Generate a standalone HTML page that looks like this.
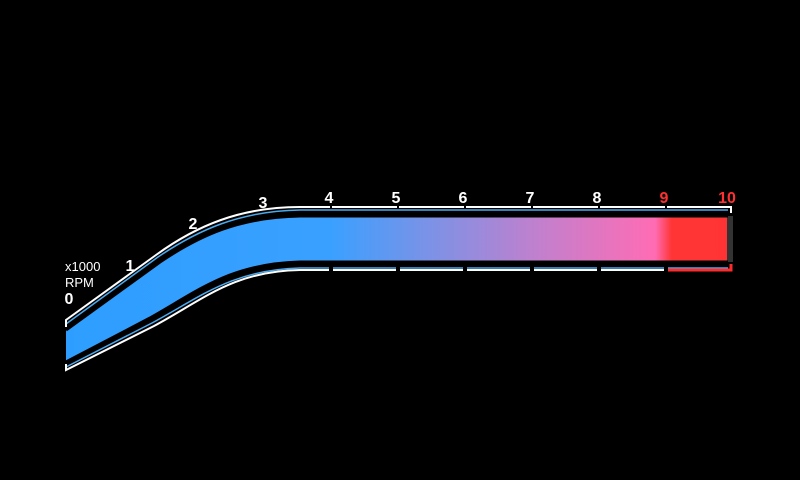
<!DOCTYPE html>
<html><head><meta charset="utf-8"><style>
html,body{margin:0;padding:0;background:#000;width:800px;height:480px;overflow:hidden}
svg{display:block}
text{font-family:"Liberation Sans",sans-serif;font-weight:bold}
</style></head><body>
<svg id="g" width="800" height="480" viewBox="0 0 800 480">
<defs>
<linearGradient id="grad" x1="66" y1="0" x2="728" y2="0" gradientUnits="userSpaceOnUse">
<stop offset="0" stop-color="#2d9eff"/>
<stop offset="0.40" stop-color="#3aa0ff"/>
<stop offset="0.55" stop-color="#7c92e6"/>
<stop offset="0.72" stop-color="#c47fcc"/>
<stop offset="0.89" stop-color="#ff6cb4"/>
<stop offset="0.915" stop-color="#ff3535"/>
<stop offset="1" stop-color="#ff3333"/>
</linearGradient>
<clipPath id="valclip"><rect id="valrect" x="0" y="0" width="800" height="480"/></clipPath>
</defs>
<g id="band"></g>
<g id="ticks"></g>
</svg>
<script>
const tickLabels = ["0","1","2","3","4","5","6","7","8","9","10"];
const tickValues = [0,1,2,3,4,5,6,7,8,9,10];
const redlineFrom = 9;
const rpmValue = 10;
const svg = document.getElementById('g');
const NS = 'http://www.w3.org/2000/svg';
function xScale(v){ return 331 + (v-4)*67; }
const curvePts = [[69,298],[130,265],[193,223],[263,202]];
function labelPos(v){ return v<4 ? curvePts[v] : [v===10 ? 727 : xScale(v)-2, 197]; }
function mk(tag, attrs, parent){ const e=document.createElementNS(NS,tag); for(const k in attrs) e.setAttribute(k,attrs[k]); (parent||svg).appendChild(e); return e; }
const band = document.getElementById('band');
const topEdge = "M66,330 L160,262 C200,235 240,217 300,216 L728,216";
const botEdge = "M66,362 L150,318 C200,290 230,264 300,262 L728,262";
const fillPath = "M66,330 L160,262 C200,235 240,217 300,216 L728,216 L728,262 L300,262 C230,264 200,290 150,318 L66,362 Z";
document.getElementById('valrect').setAttribute('width', Math.min(728, xScale(rpmValue)));
const fill = mk('path',{d:fillPath,fill:'url(#grad)','clip-path':'url(#valclip)'},band);


const cap = mk('rect',{x:727,y:216,width:6,height:46,fill:'#333'},band);


mk('path',{d:topEdge,fill:'none',stroke:'#000','stroke-width':3},band);
mk('path',{d:botEdge,fill:'none',stroke:'#000','stroke-width':3},band);
const tb = mk('path',{d:"M66,324 L158,257 C198,230 240,211 300,210 L728,210",fill:'none',stroke:'#4aaaf0','stroke-width':1.5},band);


const bb = mk('path',{d:"M66,367 L152,323 C202,296 232,270 300,268 L728,268",fill:'none',stroke:'#4aaaf0','stroke-width':1.5},band);


const tw = mk('path',{d:"M66,327 L66,320 L156,255 C196,226 240,207 300,207 L731,207 L731,213",fill:'none',stroke:'#fff','stroke-width':2},band);


const bw = mk('path',{d:"M66,364 L66,370 L154,326 C204,299 234,271 300,270 L"+xScale(redlineFrom)+",270",fill:'none',stroke:'#fff','stroke-width':2},band);


const rw = mk('path',{d:"M"+xScale(redlineFrom)+",270 L731,270 L731,264",fill:'none',stroke:'#ff2a2a','stroke-width':3},band);


const ticks = document.getElementById('ticks');
tickValues.forEach((v,i)=>{
  if(v>=4 && v<10){
    const x = xScale(v);
    mk('rect',{x:x-2,y:266,width:4,height:8,fill:'#000'},ticks);
    mk('rect',{x:x-1,y:205,width:2,height:4,fill:'#000'},ticks);
  }
  const p = labelPos(v);
  const t = mk('text',{x:p[0],y:p[1]+6,'text-anchor':'middle','font-size':16,fill: v>=redlineFrom ? '#ff3030' : '#fff'},ticks);
  t.textContent = tickLabels[i];
  
  
});
const u1 = mk('text',{x:65,y:271,'font-size':13,fill:'#fff',style:'font-weight:normal'},ticks);
u1.textContent='x1000';


const u2 = mk('text',{x:65,y:287,'font-size':13,fill:'#fff',style:'font-weight:normal'},ticks);
u2.textContent='RPM';


</script>
</body></html>
